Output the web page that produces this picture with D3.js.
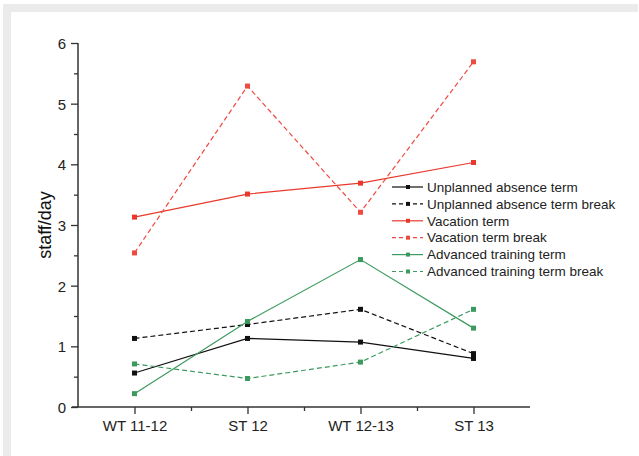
<!DOCTYPE html>
<html><head><meta charset="utf-8">
<script src="https://cdn.jsdelivr.net/npm/d3@7"></script>
<style>html,body{margin:0;padding:0;background:#fff;}svg{display:block;}</style>
</head><body>
<svg id="c" width="639" height="456"></svg>
<script>
const categories = ["WT 11-12", "ST 12", "WT 12-13", "ST 13"];
const seriesNames = ["Unplanned absence term", "Unplanned absence term break", "Vacation term", "Vacation term break", "Advanced training term", "Advanced training term break"];
const unplannedTerm = [0.56, 1.13, 1.07, 0.80];
const unplannedBreak = [1.13, 1.36, 1.61, 0.88];
const vacationTerm = [3.13, 3.51, 3.69, 4.03];
const vacationBreak = [2.54, 5.29, 3.21, 5.69];
const trainingTerm = [0.22, 1.41, 2.43, 1.30];
const trainingBreak = [0.71, 0.47, 0.74, 1.61];
const yTicks = [0, 1, 2, 3, 4, 5, 6];
const yLabel = "staff/day";

const seriesValues = [unplannedTerm, unplannedBreak, vacationTerm, vacationBreak, trainingTerm, trainingBreak];
const colors = ["#111111", "#111111", "#e8392c", "#ee4a42", "#3c9a5f", "#3c9a5f"];
const dashed = [false, true, false, true, false, true];

const svg = d3.select("#c");
// frame
svg.append("rect").attr("x", 3).attr("y", 4).attr("width", 635).attr("height", 452).attr("fill", "#ebebeb");
svg.append("rect").attr("x", 11).attr("y", 12).attr("width", 627).attr("height", 444).attr("fill", "#fff");

const x = d3.scaleLinear().domain([0.5, 4.5]).range([78, 530]);
const y = d3.scaleLinear().domain([0, 6]).range([407, 43]);
const font = "Liberation Sans, Arial, sans-serif";

// y axis
const yAxis = svg.append("g").attr("transform", "translate(78,0)");
yAxis.call(d3.axisLeft(y).tickValues(d3.range(0, 6.01, 0.5)).tickSize(4).tickFormat(""));
yAxis.call(g => g.selectAll(".tick line").attr("stroke", "#333").attr("stroke-width", 1.3));
yAxis.selectAll(".tick").filter(d => Number.isInteger(d)).select("line").attr("x2", -7);
yAxis.select(".domain").attr("stroke", "#333").attr("stroke-width", 1.5).attr("d", `M0,${y(0)}V${y(6)}`);
yAxis.selectAll(".tick").filter(d => yTicks.includes(d)).append("text")
  .attr("x", -12).attr("dy", "0.36em").attr("text-anchor", "end")
  .attr("fill", "#222").style("font-family", font).style("font-size", "15px")
  .text(d => d3.format("d")(d));

// x axis
const xAxis = svg.append("g").attr("transform", `translate(0,${y(0)})`);
xAxis.call(d3.axisBottom(x).tickValues([1, 1.5, 2, 2.5, 3, 3.5, 4]).tickSize(4).tickFormat(""));
xAxis.selectAll(".tick line").attr("stroke", "#333").attr("stroke-width", 1.3);
xAxis.selectAll(".tick").filter(d => Number.isInteger(d)).select("line").attr("y2", 7);
xAxis.select(".domain").attr("stroke", "#333").attr("stroke-width", 1.5).attr("d", `M${x(0.5) - 6},0H${x(4.5)}`);
xAxis.selectAll(".tick").filter(d => Number.isInteger(d)).append("text")
  .attr("y", 24).attr("text-anchor", "middle")
  .attr("fill", "#222").style("font-family", font).style("font-size", "15px")
  .text(d => categories[d - 1]);

// y label
svg.append("text").attr("transform", `translate(51,${(y(3.0))}) rotate(-90)`)
  .attr("text-anchor", "middle").attr("fill", "#111")
  .style("font-family", font).style("font-size", "18px").text(yLabel);

// lines
const line = d3.line().x((d, i) => x(i + 1)).y(d => y(d));
seriesValues.forEach((vals, si) => {
  svg.append("path").datum(vals).attr("d", line).attr("fill", "none")
    .attr("stroke", colors[si]).attr("stroke-width", 1.2)
    .attr("stroke-dasharray", dashed[si] ? "5,3" : null);
});
seriesValues.forEach((vals, si) => {
  svg.selectAll(null).data(vals).enter().append("rect")
    .attr("x", (d, i) => x(i + 1) - 2.5).attr("y", d => y(d) - 2.5)
    .attr("width", 5).attr("height", 5).attr("fill", colors[si]);
});

// legend
const leg = svg.append("g");
seriesNames.forEach((name, i) => {
  const cy = 187 + i * 16.9;
  leg.append("line").attr("x1", 392).attr("x2", 423).attr("y1", cy).attr("y2", cy)
    .attr("stroke", colors[i]).attr("stroke-width", 1.2)
    .attr("stroke-dasharray", dashed[i] ? "4,3" : null)
    .attr("stroke-dashoffset", dashed[i] ? 0 : null);
  leg.append("rect").attr("x", 406).attr("y", cy - 2).attr("width", 4).attr("height", 4).attr("fill", colors[i]);
  leg.append("text").attr("x", 427).attr("y", cy).attr("dy", "0.35em")
    .attr("fill", "#222").style("font-family", font).style("font-size", "13.5px").text(name);
});
</script>
</body></html>
